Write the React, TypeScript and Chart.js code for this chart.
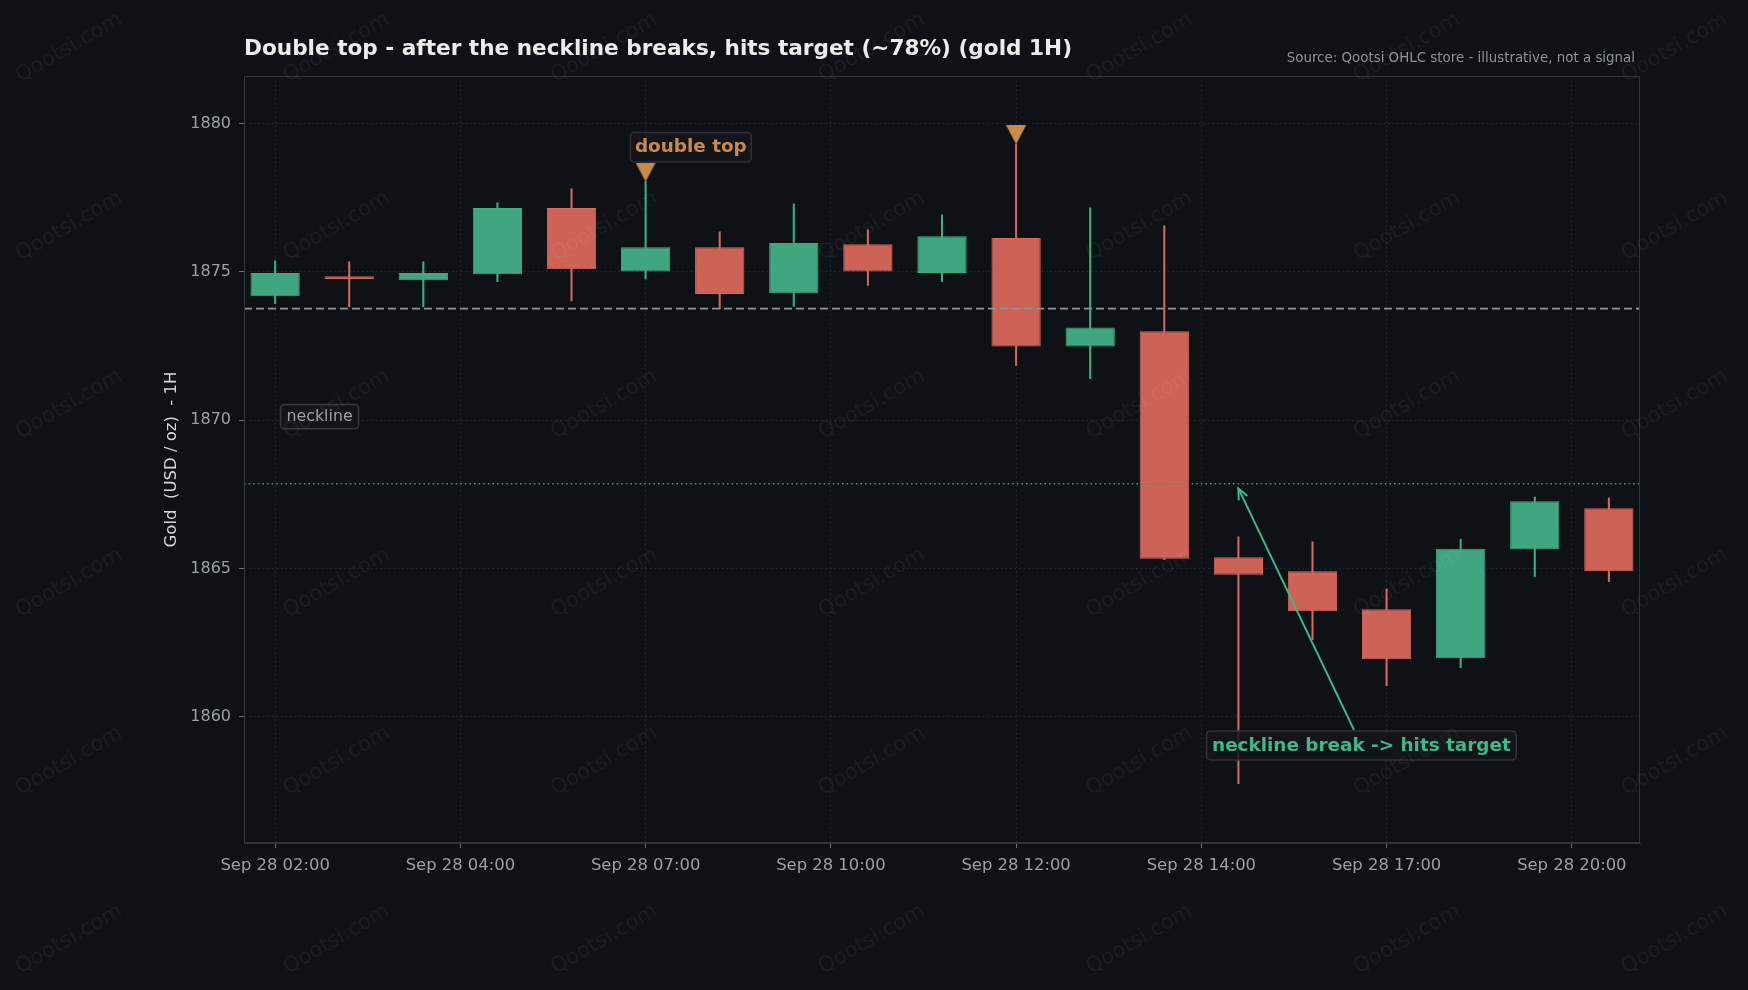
import React, { useEffect, useRef } from 'react';
import { Chart, registerables } from 'chart.js';

Chart.register(...registerables);

const FONT_FAMILY = "'DejaVu Sans', 'Liberation Sans', sans-serif";

// ---- data ----
const candleIndex = [0, 1, 2, 3, 4, 5, 6, 7, 8, 9, 10, 11, 12, 13, 14, 15, 16, 17, 18];
const openValues = [1874.18, 1874.85, 1874.72, 1874.92, 1877.15, 1875.01, 1875.83, 1874.28, 1875.93, 1874.96, 1876.14, 1872.48, 1873.0, 1865.38, 1864.91, 1863.63, 1861.98, 1865.65, 1867.03];
const highValues = [1875.37, 1875.34, 1875.34, 1877.33, 1877.8, 1878.04, 1876.35, 1877.29, 1876.42, 1876.92, 1879.31, 1877.16, 1876.55, 1866.07, 1865.9, 1864.31, 1865.99, 1867.41, 1867.38];
const lowValues = [1873.93, 1873.82, 1873.82, 1874.67, 1874.02, 1874.76, 1873.76, 1873.83, 1874.54, 1874.67, 1871.84, 1871.4, 1865.3, 1857.75, 1862.6, 1861.05, 1861.66, 1864.73, 1864.56];
const closeValues = [1874.96, 1874.76, 1874.96, 1877.15, 1875.09, 1875.83, 1874.25, 1875.97, 1875.01, 1876.2, 1872.48, 1873.12, 1865.33, 1864.79, 1863.56, 1861.94, 1865.67, 1867.27, 1864.91];

const xTickPositions = [0, 2.5, 5, 7.5, 10, 12.5, 15, 17.5];
const xTickLabels = ['Sep 28 02:00', 'Sep 28 04:00', 'Sep 28 07:00', 'Sep 28 10:00', 'Sep 28 12:00', 'Sep 28 14:00', 'Sep 28 17:00', 'Sep 28 20:00'];
const yTickValues = [1860, 1865, 1870, 1875, 1880];

const necklineValue = 1873.76;
const targetValue = 1867.86;
const peakMarkerIndex = [5, 10];
const peakMarkerValues = [1878.36, 1879.62];

const xMin = -0.42;
const xMax = 18.42;
const yMin = 1855.75;
const yMax = 1881.6;

const doubleTopLabel = { x: 5.61, y: 1879.2, text: 'double top' };
const necklineLabel = { x: 0.6, y: 1870.12, text: 'neckline' };
const breakLabel = { x: 14.66, y: 1859.04, text: 'neckline break -> hits target' };
const arrowTip = { x: 13, y: 1867.7 };

const titleText = 'Double top - after the neckline breaks, hits target (~78%) (gold 1H)';
const sourceText = 'Source: Qootsi OHLC store - illustrative, not a signal';
const yAxisTitle = 'Gold  (USD / oz)  - 1H';
const watermarkText = 'Qootsi.com';

// ---- colours ----
const BG = '#0e1116';
const GRID = 'rgba(255,255,255,0.10)';
const FRAME = '#30343b';
const TICK_TEXT = '#9ba0a8';
const TICK_MARK = '#6a6f78';
const GREEN_FILL = '#3fa67f';
const GREEN_EDGE = '#3aaf80';
const RED_FILL = '#cd6256';
const RED_EDGE = '#d8685b';
const NECK = '#8e9299';
const TARGET = '#2f9d78';
const ORANGE = '#c98b4c';
const ANNOT_GREEN = '#3dba89';

function roundRectPath(ctx: CanvasRenderingContext2D, x: number, y: number, w: number, h: number, r: number) {
  ctx.beginPath();
  ctx.moveTo(x + r, y);
  ctx.lineTo(x + w - r, y);
  ctx.arcTo(x + w, y, x + w, y + r, r);
  ctx.lineTo(x + w, y + h - r);
  ctx.arcTo(x + w, y + h, x + w - r, y + h, r);
  ctx.lineTo(x + r, y + h);
  ctx.arcTo(x, y + h, x, y + h - r, r);
  ctx.lineTo(x, y + r);
  ctx.arcTo(x, y, x + r, y, r);
  ctx.closePath();
}

function drawBoxLabel(
  chart: any,
  lab: { x: number; y: number; text: string },
  font: string,
  color: string,
  padX: number,
  boxH: number,
  borderColor: string
) {
  const ctx: CanvasRenderingContext2D = chart.ctx;
  const cx = chart.scales.x.getPixelForValue(lab.x);
  const cy = chart.scales.y.getPixelForValue(lab.y);
  ctx.save();
  ctx.font = font;
  const w = ctx.measureText(lab.text).width;
  const bw = w + padX * 2;
  roundRectPath(ctx, cx - bw / 2, cy - boxH / 2, bw, boxH, 4);
  ctx.fillStyle = 'rgba(20,22,27,0.85)';
  ctx.fill();
  ctx.lineWidth = 1.5;
  ctx.strokeStyle = borderColor;
  ctx.stroke();
  ctx.fillStyle = color;
  ctx.textAlign = 'center';
  ctx.textBaseline = 'middle';
  ctx.fillText(lab.text, cx, cy + 0.5);
  ctx.restore();
  return { cx, cy, bw, bh: boxH };
}

function makeTriangle(): HTMLCanvasElement {
  const c = document.createElement('canvas');
  c.width = 20;
  c.height = 19;
  const g = c.getContext('2d')!;
  g.fillStyle = ORANGE;
  g.beginPath();
  g.moveTo(0, 0);
  g.lineTo(20, 0);
  g.lineTo(10, 19);
  g.closePath();
  g.fill();
  return c;
}

const decorPlugin = {
  id: 'decor',
  beforeDraw(chart: any) {
    const ctx: CanvasRenderingContext2D = chart.ctx;
    ctx.save();
    ctx.fillStyle = BG;
    ctx.fillRect(0, 0, chart.width, chart.height);
    ctx.restore();
  },
  afterDatasetsDraw(chart: any) {
    const ctx: CanvasRenderingContext2D = chart.ctx;
    const a = chart.chartArea;
    // frame
    ctx.save();
    ctx.strokeStyle = FRAME;
    ctx.lineWidth = 1;
    ctx.strokeRect(Math.round(a.left) + 0.5, Math.round(a.top) + 0.5, Math.round(a.right - a.left) - 1, Math.round(a.bottom - a.top) - 1);
    ctx.restore();

    drawBoxLabel(chart, doubleTopLabel, `bold 18.4px ${FONT_FAMILY}`, ORANGE, 4.5, 29.6, '#2e3137');
    drawBoxLabel(chart, necklineLabel, `15.8px ${FONT_FAMILY}`, TICK_TEXT, 6, 24.3, '#353940');
    const b = drawBoxLabel(chart, breakLabel, `bold 18.4px ${FONT_FAMILY}`, ANNOT_GREEN, 5.5, 29, '#2f333a');

    // arrow
    const tx = chart.scales.x.getPixelForValue(arrowTip.x);
    const ty = chart.scales.y.getPixelForValue(arrowTip.y);
    const dx = tx - b.cx;
    const dy = ty - b.cy;
    const t = (-b.bh / 2 - 1.5) / dy;
    const sx = b.cx + dx * t;
    const sy = b.cy + dy * t;
    ctx.save();
    ctx.strokeStyle = ANNOT_GREEN;
    ctx.lineWidth = 2;
    ctx.lineCap = 'round';
    ctx.beginPath();
    ctx.moveTo(sx, sy);
    ctx.lineTo(tx, ty);
    ctx.stroke();
    const len = Math.hypot(sx - tx, sy - ty);
    const ux = (sx - tx) / len;
    const uy = (sy - ty) / len;
    const ang = (24 * Math.PI) / 180;
    const head = 11;
    const rot = (ang2: number) => ({
      x: ux * Math.cos(ang2) - uy * Math.sin(ang2),
      y: ux * Math.sin(ang2) + uy * Math.cos(ang2),
    });
    const r1 = rot(ang);
    const r2 = rot(-ang);
    ctx.beginPath();
    ctx.moveTo(tx + r1.x * head, ty + r1.y * head);
    ctx.lineTo(tx, ty);
    ctx.lineTo(tx + r2.x * head, ty + r2.y * head);
    ctx.stroke();
    ctx.restore();
  },
  afterDraw(chart: any) {
    const ctx: CanvasRenderingContext2D = chart.ctx;
    const a = chart.chartArea;
    ctx.save();
    // title
    ctx.fillStyle = '#ececec';
    ctx.font = `bold 21.6px ${FONT_FAMILY}`;
    ctx.textAlign = 'left';
    ctx.textBaseline = 'alphabetic';
    ctx.fillText(titleText, a.left, 54.5);
    // source
    ctx.fillStyle = '#8d929a';
    ctx.font = `13.4px ${FONT_FAMILY}`;
    ctx.textAlign = 'right';
    ctx.fillText(sourceText, a.right - 5, 62);
    // watermark
    ctx.fillStyle = 'rgba(255,255,255,0.05)';
    ctx.font = `21px ${FONT_FAMILY}`;
    ctx.textAlign = 'center';
    ctx.textBaseline = 'middle';
    for (let i = 0; i < 7; i++) {
      for (let j = 0; j < 6; j++) {
        ctx.save();
        ctx.translate(69 + 267.6 * i, 48 + 178.3 * j);
        ctx.rotate((-30 * Math.PI) / 180);
        ctx.fillText(watermarkText, 0, 0);
        ctx.restore();
      }
    }
    ctx.restore();
  },
};

export default function App() {
  const ref = useRef<HTMLCanvasElement | null>(null);

  useEffect(() => {
    if (!ref.current) return;
    const up = candleIndex.map((i) => closeValues[i] >= openValues[i]);
    const tri = makeTriangle();

    const chart = new Chart(ref.current, {
      type: 'bar',
      data: {
        datasets: [
          {
            type: 'line',
            label: 'neckline',
            data: [
              { x: xMin, y: necklineValue },
              { x: xMax, y: necklineValue },
            ],
            borderColor: NECK,
            borderWidth: 1.6,
            borderDash: [8, 4],
            pointRadius: 0,
            order: 0,
          } as any,
          {
            type: 'line',
            label: 'target',
            data: [
              { x: xMin, y: targetValue },
              { x: xMax, y: targetValue },
            ],
            borderColor: TARGET,
            borderWidth: 1.6,
            borderDash: [1.6, 3],
            pointRadius: 0,
            order: 0,
          } as any,
          {
            type: 'scatter',
            label: 'peaks',
            data: peakMarkerIndex.map((x, k) => ({ x, y: peakMarkerValues[k] })),
            pointStyle: tri as any,
            pointRadius: 10,
            order: 0,
          } as any,
          {
            type: 'bar',
            label: 'body',
            data: candleIndex.map((i) => ({ x: i, y: [openValues[i], closeValues[i]] })),
            backgroundColor: candleIndex.map((i) => (up[i] ? GREEN_FILL : RED_FILL)),
            borderColor: candleIndex.map((i) => (up[i] ? GREEN_EDGE : RED_EDGE)),
            borderWidth: 1,
            borderSkipped: false,
            grouped: false,
            categoryPercentage: 1,
            barPercentage: 0.665,
            order: 1,
          } as any,
          {
            type: 'bar',
            label: 'wick',
            data: candleIndex.map((i) => ({ x: i, y: [lowValues[i], highValues[i]] })),
            backgroundColor: candleIndex.map((i) => (up[i] ? GREEN_EDGE : RED_EDGE)),
            borderWidth: 0,
            grouped: false,
            barThickness: 1.4,
            order: 2,
          } as any,
        ],
      },
      options: {
        responsive: false,
        devicePixelRatio: 1,
        animation: false,
        events: [],
        layout: { padding: { top: 76, right: 108, left: 0, bottom: 0 } },
        plugins: {
          legend: { display: false },
          tooltip: { enabled: false },
          title: { display: false },
        },
        scales: {
          x: {
            type: 'linear',
            min: xMin,
            max: xMax,
            offset: false,
            afterFit: (s: any) => {
              s.height = 147;
            },
            afterBuildTicks: (s: any) => {
              s.ticks = xTickPositions.map((v) => ({ value: v }));
            },
            grid: {
              offset: false,
              color: GRID,
              lineWidth: 1,
              drawTicks: true,
              tickLength: 5,
              tickColor: TICK_MARK,
              tickWidth: 1,
            },
            border: { display: true, color: FRAME, width: 1, dash: [1.5, 3] },
            ticks: {
              autoSkip: false,
              maxRotation: 0,
              padding: 7.5,
              color: TICK_TEXT,
              font: { family: FONT_FAMILY, size: 16.4 },
              callback: (_v: any, idx: number) => xTickLabels[idx],
            },
          } as any,
          y: {
            type: 'linear',
            min: yMin,
            max: yMax,
            afterFit: (s: any) => {
              s.width = 244;
            },
            afterBuildTicks: (s: any) => {
              s.ticks = yTickValues.map((v) => ({ value: v }));
            },
            grid: {
              color: GRID,
              lineWidth: 1,
              drawTicks: true,
              tickLength: 5,
              tickColor: TICK_MARK,
              tickWidth: 1,
            },
            border: { display: true, color: FRAME, width: 1, dash: [1.5, 3] },
            ticks: {
              padding: 8,
              color: TICK_TEXT,
              font: { family: FONT_FAMILY, size: 16 },
              callback: (v: any) => String(v),
            },
            title: {
              display: true,
              text: yAxisTitle,
              color: '#d5d7db',
              font: { family: FONT_FAMILY, size: 16.5 },
              padding: { top: 162, bottom: 0 },
            },
          } as any,
        },
      },
      plugins: [decorPlugin as any],
    });

    return () => {
      chart.destroy();
    };
  }, []);

  return (
    <div style={{ position: 'fixed', left: 0, top: 0, width: 1748, height: 990, background: BG }}>
      <canvas ref={ref} width={1748} height={990} style={{ display: 'block', width: 1748, height: 990 }} />
    </div>
  );
}
